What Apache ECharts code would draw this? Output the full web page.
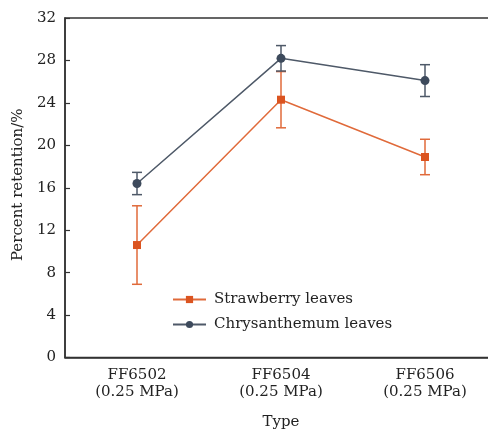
<!DOCTYPE html>
<html>
<head>
<meta charset="utf-8">
<script src="https://cdn.jsdelivr.net/npm/echarts@6/dist/echarts.min.js"></script>
<style>
  html, body { margin: 0; padding: 0; background: #fff; }
  #chart { width: 488px; height: 434px; }
</style>
</head>
<body>
<div id="chart"></div>
<script>
// Nozzle types tested
const categories = ['FF6502\n(0.25 MPa)', 'FF6504\n(0.25 MPa)', 'FF6506\n(0.25 MPa)'];
// Mean percent retention and standard deviation
const strawberryMean = [10.6, 24.3, 18.9];
const strawberryErr = [3.7, 2.65, 1.67];
const chrysMean = [16.4, 28.2, 26.1];
const chrysErr = [1.05, 1.2, 1.5];
const yTicks = [0, 4, 8, 12, 16, 20, 24, 28, 32];

const orange = '#E06A3A';
const orangeMark = '#DB5420';
const slate = '#4E5968';
const slateMark = '#3D4A5C';
const font = 'DejaVu Serif';
const fs = 15;

function errData(mean, err) {
  return mean.map((m, i) => [i, m - err[i], m + err[i]]);
}

function errSeries(name, mean, err, color) {
  return {
    type: 'custom',
    name: name + ' err',
    data: errData(mean, err),
    z: 3,
    silent: true,
    renderItem: function (params, api) {
      const x = api.coord([api.value(0), api.value(1)])[0];
      const lo = api.coord([api.value(0), api.value(1)])[1];
      const hi = api.coord([api.value(0), api.value(2)])[1];
      const hw = 5;
      const style = { stroke: color, lineWidth: 1.5 };
      return {
        type: 'group',
        children: [
          { type: 'line', shape: { x1: x, y1: lo, x2: x, y2: hi }, style: style },
          { type: 'line', shape: { x1: x - hw, y1: lo, x2: x + hw, y2: lo }, style: style },
          { type: 'line', shape: { x1: x - hw, y1: hi, x2: x + hw, y2: hi }, style: style }
        ]
      };
    }
  };
}

const chart = echarts.init(document.getElementById('chart'), null, { renderer: 'canvas' });
chart.setOption({
  animation: false,
  backgroundColor: '#fff',
  textStyle: { fontFamily: font, color: '#222' },
  grid: {
    left: 65, top: 18, width: 432, height: 339.5,
    outerBoundsMode: 'none',
    containLabel: false,
    show: true, borderColor: '#333', borderWidth: 1.5, backgroundColor: 'transparent'
  },
  legend: {
    orient: 'vertical',
    left: 172, top: 292,
    padding: 0,
    itemWidth: 33, itemHeight: 9, itemGap: 10,
    textStyle: { fontFamily: font, fontSize: fs, color: '#222', padding: [0, 0, 0, 3] },
    data: ['Strawberry leaves', 'Chrysanthemum leaves']
  },
  xAxis: {
    type: 'category',
    data: categories,
    boundaryGap: true,
    axisLine: { lineStyle: { color: '#333', width: 1.5 } },
    axisTick: { inside: true, alignWithLabel: true, length: 5, lineStyle: { color: '#333', width: 1.2 } },
    axisLabel: { fontFamily: font, fontSize: fs, color: '#222', lineHeight: 17, margin: 9 },
    name: 'Type',
    nameLocation: 'middle',
    nameGap: 57,
    nameTextStyle: { fontFamily: font, fontSize: fs, color: '#222' }
  },
  yAxis: {
    type: 'value',
    min: yTicks[0], max: yTicks[yTicks.length - 1], interval: 4,
    splitLine: { show: false },
    axisLine: { show: true, lineStyle: { color: '#333', width: 1.5 } },
    axisTick: { show: true, inside: true, length: 5, lineStyle: { color: '#333', width: 1.2 } },
    axisLabel: { fontFamily: font, fontSize: fs, color: '#222', margin: 9 },
    name: 'Percent retention/%',
    nameLocation: 'middle',
    nameGap: 27,
    nameTextStyle: { fontFamily: font, fontSize: fs, color: '#222', padding: [0, 0, 0, 6] }
  },
  series: [
    errSeries('Strawberry leaves', strawberryMean, strawberryErr, orange),
    errSeries('Chrysanthemum leaves', chrysMean, chrysErr, slate),
    {
      name: 'Strawberry leaves',
      type: 'line',
      data: strawberryMean,
      symbol: 'rect',
      symbolSize: 8,
      z: 4,
      lineStyle: { color: orange, width: 1.5 },
      itemStyle: { color: orangeMark }
    },
    {
      name: 'Chrysanthemum leaves',
      type: 'line',
      data: chrysMean,
      symbol: 'circle',
      symbolSize: 9,
      z: 4,
      lineStyle: { color: slate, width: 1.5 },
      itemStyle: { color: slateMark }
    }
  ]
});
</script>
</body>
</html>
